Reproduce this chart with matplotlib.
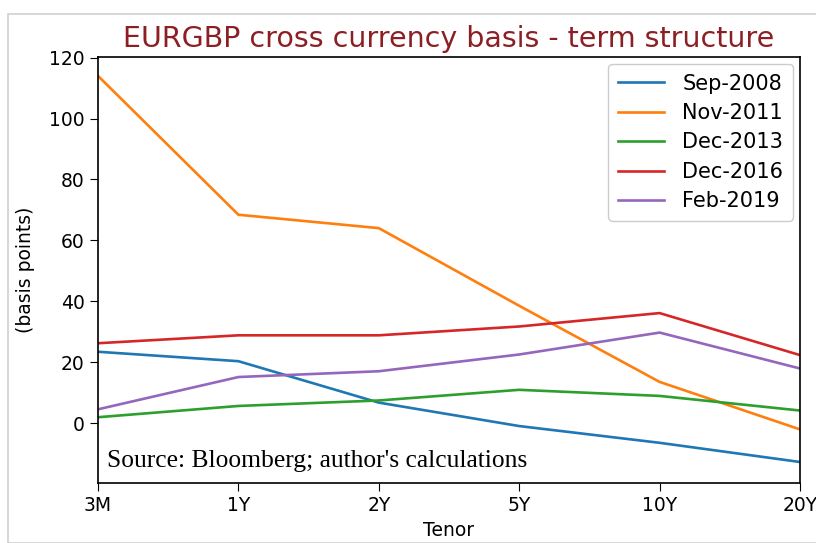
import matplotlib
matplotlib.use("Agg")
import matplotlib.pyplot as plt
from matplotlib.patches import Rectangle

tenors = ["3M", "1Y", "2Y", "5Y", "10Y", "20Y"]
sep_2008 = [23.4, 20.3, 6.7, -1.0, -6.5, -12.8]
nov_2011 = [114.0, 68.4, 64.0, 38.5, 13.5, -2.1]
dec_2013 = [1.9, 5.6, 7.4, 10.9, 8.9, 4.1]
dec_2016 = [26.2, 28.8, 28.8, 31.7, 36.1, 22.3]
feb_2019 = [4.5, 15.1, 17.0, 22.5, 29.7, 17.9]
series_names = ["Sep-2008", "Nov-2011", "Dec-2013", "Dec-2016", "Feb-2019"]
series = [sep_2008, nov_2011, dec_2013, dec_2016, feb_2019]
colors = ["#1f77b4", "#ff7f0e", "#2ca02c", "#d62728", "#9467bd"]

fig = plt.figure(figsize=(8.16, 5.43), dpi=100)
ax = fig.add_axes([98/816, 1-483/543, (800-98)/816, (483-57)/543])

x = list(range(len(tenors)))
for name, vals, c in zip(series_names, series, colors):
    ax.plot(x, vals, color=c, lw=1.9, label=name)

ax.set_xlim(0, 5)
ax.set_ylim(-19.7, 120.2)
ax.set_xticks(x)
ax.set_xticklabels(tenors)
ax.set_yticks([0, 20, 40, 60, 80, 100, 120])
ax.tick_params(labelsize=13.5, length=6)
ax.set_xlabel("Tenor", fontsize=13.5, labelpad=4)
ax.set_ylabel("(basis points)", fontsize=13.5, labelpad=10)
ax.set_title("EURGBP cross currency basis - term structure", fontsize=20.5,
             color="#8b1f24", pad=7)
for s in ax.spines.values():
    s.set_linewidth(1.2)

leg = ax.legend(loc="upper right", fontsize=15, labelspacing=0.45,
                handlelength=2.2, borderpad=0.45, handletextpad=0.9,
                borderaxespad=0.35, framealpha=1)

ax.text(0.013, 0.025, "Source: Bloomberg; author's calculations",
        transform=ax.transAxes, fontsize=18.4, family="Liberation Serif",
        ha="left", va="bottom")

fig.patches.append(Rectangle((8/816, 0), 1, 1-14/543, transform=fig.transFigure,
                             fill=False, edgecolor="#d0d0d0", lw=1.2))

fig.savefig("out.png", dpi=100)
